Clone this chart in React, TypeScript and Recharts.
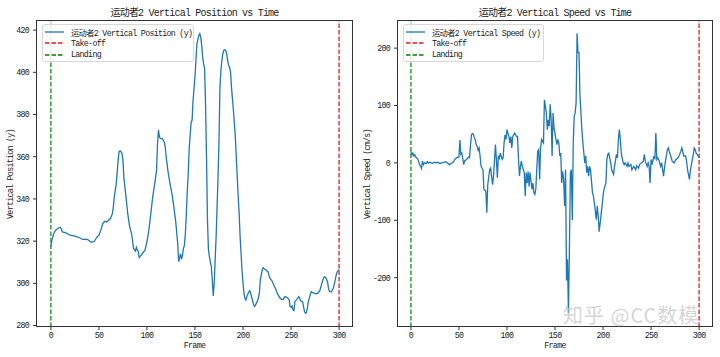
import React from 'react';
import { LineChart, Line, XAxis, YAxis, ReferenceLine } from 'recharts';

// 运动者2 position (y) per frame
const posFrames = [
  0, 1, 3, 5, 8, 10, 11, 12, 15, 20, 25, 30, 33, 38, 40, 42, 45, 48, 50, 52,
  54, 56, 58, 60, 62, 64, 65, 66, 68, 70, 71, 72, 73, 74, 75, 76, 78, 80, 82, 84,
  85, 86, 88, 89, 90, 91, 92, 94, 96, 98, 100, 102, 104, 106, 108, 110, 111, 112, 113, 114,
  116, 118, 119, 120, 122, 124, 126, 128, 130, 132, 133, 134, 135, 136, 137, 138, 139, 140, 141, 142,
  143, 144, 146, 147, 148, 150, 152, 154, 155, 156, 157, 158, 159, 160, 161, 162, 163, 164, 165, 166,
  167, 168, 169, 170, 171, 172, 173, 174, 175, 176, 177, 178, 179, 180, 181, 182, 183, 184, 185, 186,
  187, 188, 190, 192, 194, 195, 196, 197, 198, 199, 200, 201, 202, 203, 204, 206, 207, 208, 209, 210,
  211, 212, 214, 216, 217, 218, 220, 221, 222, 224, 226, 227, 228, 230, 232, 234, 236, 238, 240, 242,
  243, 244, 246, 248, 249, 250, 251, 252, 253, 254, 256, 258, 259, 260, 262, 263, 264, 265, 266, 267,
  268, 270, 271, 272, 274, 276, 278, 280, 282, 284, 285, 286, 288, 289, 290, 292, 294, 296, 297, 298,
  299, 300,
];
const posValues = [
  317.6, 320.5, 323.6, 325.2, 326.3, 326.5, 325.5, 324.4, 324, 322.8, 322.4, 321.6, 320.8, 320.8, 320.2, 319.5, 319.8, 322, 322.7, 325.2,
  328.3, 329.4, 329.1, 329.9, 330.7, 333, 336, 341, 347, 358.4, 362.4, 362.8, 362.4, 361.6, 358.4, 350, 341.7, 333, 326.8, 323.6,
  320.5, 316.5, 315.3, 317, 315.7, 315, 312.3, 313.4, 314.6, 315.7, 319.7, 325.2, 333, 341, 347, 353.5, 366.3, 372.6, 369.4, 368.7,
  368.5, 367, 364.7, 360, 352.8, 347.2, 342.5, 336.2, 329, 319, 310.2, 312.3, 313.9, 311.3, 313.4, 316.5, 318, 323.6, 333, 344,
  352, 364, 376.5, 377.3, 386.8, 397.8, 413.5, 417.5, 418.3, 416.7, 412.8, 407.2, 404, 402, 385, 360, 330, 316, 312.6, 310.2,
  307.9, 301.6, 294, 300, 311, 322, 336, 350.4, 367.9, 393, 400.9, 405.7, 408.8, 410.4, 410.7, 410.4, 408.8, 405.7, 403.3, 402.5,
  400.2, 393, 382, 369.4, 350.4, 341, 333, 322, 314, 306, 300, 295.3, 292.9, 292.1, 293.7, 296, 296.5, 295.3, 293.4, 291.8,
  289.8, 289, 290.6, 292.9, 295.3, 301.6, 306.3, 307.4, 306.9, 306.3, 305.5, 303.9, 302.4, 301.3, 299.2, 297.3, 295, 293.4, 292.4, 292.4,
  293.4, 293.7, 293.2, 292.4, 289, 288.7, 289.3, 287.4, 287.1, 291.3, 292.4, 293.7, 292.9, 291.7, 291.3, 289, 286.6, 285.8, 286.1, 288.2,
  291.3, 294.5, 296.1, 295.7, 295.3, 295, 295.3, 296.5, 300, 302.7, 303.1, 302.8, 300.8, 297.6, 296.1, 295.9, 297.6, 301.6, 303.9, 305.4,
  306, 306.6,
];

// 运动者2 vertical speed (cm/s) per frame
const speedFrames = [
  0, 1, 2, 3, 4, 5, 6, 7, 8, 9, 10, 11, 12, 13, 14, 16, 17, 18, 20, 22,
  24, 26, 28, 30, 32, 34, 36, 38, 40, 42, 44, 46, 48, 50, 51, 52, 53, 55, 56, 58,
  60, 61, 62, 63, 64, 65, 66, 67, 68, 69, 70, 71, 72, 73, 74, 75, 76, 78, 79, 80,
  82, 83, 85, 86, 88, 89, 90, 91, 92, 93, 95, 96, 97, 98, 99, 100, 102, 103, 104, 105,
  106, 108, 110, 111, 112, 113, 114, 115, 116, 118, 119, 120, 121, 122, 123, 124, 126, 127, 128, 129,
  130, 131, 132, 133, 134, 135, 136, 138, 139, 140, 141, 142, 143, 144, 145, 146, 147, 148, 149, 150,
  151, 152, 153, 154, 155, 156, 157, 158, 159, 160, 161, 162, 163, 164, 165, 166, 167, 168, 169, 170,
  171, 172, 173, 174, 175, 176, 178, 179, 181, 182, 183, 184, 185, 186, 187, 189, 190, 191, 193, 194,
  195, 196, 197, 199, 200, 201, 203, 204, 205, 206, 208, 209, 211, 212, 214, 215, 216, 217, 218, 219,
  221, 222, 223, 225, 226, 227, 229, 230, 232, 233, 234, 235, 237, 238, 240, 242, 243, 244, 246, 247,
  248, 249, 250, 251, 253, 254, 255, 256, 257, 258, 260, 261, 263, 264, 265, 267, 268, 269, 271, 272,
  274, 275, 276, 278, 279, 281, 282, 283, 284, 286, 287, 288, 290, 291, 292, 294, 295, 296, 297, 298,
  300,
];
const speedValues = [
  20, 14, 17, 12, 14, 10, 9, 7, 3, -3, -6, -10, 3, -3, 0, -1, 2, 0, 1, -1,
  1, 0, 1, -1, 0, 1, 2, 0, -3, -1, 1, 7, 9, 10, 40, 15, 17, -3, 4, 6,
  10, 9, 30, 49, 51, 50, 44, 40, 32, 29, 22, 26, 12, -6, -9, -12, -46, -49, -87, -38,
  -12, -9, -38, -23, 32, 6, -26, 12, 6, 17, 6, 9, 35, 49, 41, 58, 46, 35, 46, 26,
  46, 52, 46, 46, 6, -23, -6, 3, -6, -17, -58, -17, -35, -15, -41, -17, -46, -35, -52, -55,
  -46, -12, 20, 23, -29, 26, 41, 35, 110, 99, 87, 58, 75, 64, 102, 75, 12, 87, 60, 52,
  41, 32, 41, 35, 12, 17, -35, -15, -29, -75, -12, -205, -168, -262, -150, -17, -12, -100, 35, 81,
  87, 105, 226, 192, 192, 116, 58, 35, 0, 12, -17, -6, -23, -6, -12, -52, -58, -70, -99, -75,
  -93, -120, -105, -75, -58, -46, -35, 6, 15, 17, 0, -12, -20, -6, 15, 9, 41, 58, 41, 17,
  0, -3, 0, -6, 0, -6, -3, -12, -6, -9, -12, -5, -9, -3, 0, 3, 15, 3, -6, 0,
  -6, -35, 6, -3, 12, 6, 52, 6, 9, 6, -6, 0, -23, -9, 3, 23, 26, 20, 9, 3,
  0, 3, 6, 9, 12, 20, 26, 20, 12, 12, 3, -12, -29, -12, -3, 15, 26, 23, 17, 15,
  9,
];

const frameTicks = [0, 50, 100, 150, 200, 250, 300];
const posTicks = [280, 300, 320, 340, 360, 380, 400, 420];
const speedTicks = [-200, -100, 0, 100, 200];
const landingFrame = 0;
const takeoffFrame = 300;
const athlete = '运动者2';

const FONT = '"Liberation Mono", "Noto Sans CJK SC", monospace';
const BLUE = '#1f77b4';
const TOP = 20;
const PLOT_H = 307;

const posData = posFrames.map((f, i) => ({ frame: f, value: posValues[i] }));
const speedData = speedFrames.map((f, i) => ({ frame: f, value: speedValues[i] }));

const tickStyle = { fontSize: 8.3, fontFamily: FONT, fill: '#222', letterSpacing: -0.7 };

const LegendBox = ({ label, width }: { label: string; width: number }) => {
  const rows = [
    { name: label, color: BLUE, dash: false },
    { name: 'Take-off', color: '#e41a1c', dash: true },
    { name: 'Landing', color: '#008000', dash: true },
  ];
  return (
    <div
      style={{
        position: 'absolute', left: 5, top: 3, width, height: 38, boxSizing: 'border-box',
        border: '1px solid #d8d8d8', borderRadius: 3, background: 'rgba(255,255,255,0.85)',
        fontFamily: FONT, fontSize: 8.3, letterSpacing: -0.7, color: '#222',
      }}
    >
      {rows.map((r, i) => (
        <div key={r.name} style={{ position: 'absolute', left: 2, top: 1.5 + i * 11.5, height: 10, display: 'flex', alignItems: 'center', whiteSpace: 'nowrap' }}>
          <svg width={20} height={4} style={{ marginRight: 6 }}>
            <line x1={0} y1={2} x2={19} y2={2} stroke={r.color} strokeWidth={1.3} strokeDasharray={r.dash ? '4.5 2' : undefined} />
          </svg>
          <span>{r.name}</span>
        </div>
      ))}
    </div>
  );
};

interface PanelProps {
  left: number;
  data: { frame: number; value: number }[];
  xDomain: [number, number];
  yDomain: [number, number];
  yTicks: number[];
  title: string;
  yLabel: string;
  seriesName: string;
  legendWidth: number;
  yLabelX: number;
  plotLeft: number;
}

const Panel = ({ left, data, xDomain, yDomain, yTicks, title, yLabel, seriesName, legendWidth, yLabelX, plotLeft }: PanelProps) => {
  const plotW = 353 - plotLeft;
  return (
    <div style={{ position: 'absolute', left, top: 0, width: 360, height: 357 }}>
      <LineChart width={360} height={357} data={data} margin={{ top: TOP, right: 7, bottom: 0, left: plotLeft - 36 }}>
        <XAxis
          type="number"
          dataKey="frame"
          domain={xDomain}
          ticks={frameTicks}
          allowDataOverflow
          height={30}
          axisLine={false}
          tickLine={{ stroke: '#333' }}
          tickSize={3}
          tickMargin={2}
          tick={tickStyle}
        />
        <YAxis
          type="number"
          domain={yDomain}
          ticks={yTicks}
          allowDataOverflow
          width={36}
          axisLine={false}
          tickLine={{ stroke: '#333' }}
          tickSize={3}
          tickMargin={4}
          tick={tickStyle}
        />
        <ReferenceLine x={landingFrame} stroke="#008000" strokeWidth={1.2} strokeDasharray="4.5 2" />
        <ReferenceLine x={takeoffFrame} stroke="#e41a1c" strokeWidth={1.3} strokeDasharray="4.5 2" />
        <Line type="linear" dataKey="value" stroke={BLUE} strokeWidth={1.3} dot={false} isAnimationActive={false} />
      </LineChart>
      <div style={{ position: 'absolute', left: plotLeft, top: TOP, width: plotW, height: PLOT_H, boxSizing: 'border-box', border: '1px solid #333', pointerEvents: 'none' }}>
        <LegendBox label={seriesName} width={legendWidth} />
      </div>
      <div style={{ position: 'absolute', left: plotLeft, width: plotW, top: 4, textAlign: 'center', fontFamily: FONT, fontSize: 10, letterSpacing: -0.8, color: '#222', whiteSpace: 'nowrap' }}>
        {title}
      </div>
      <div style={{ position: 'absolute', left: plotLeft, width: plotW, top: 341, textAlign: 'center', fontFamily: FONT, fontSize: 8.3, letterSpacing: -0.7, color: '#222' }}>
        Frame
      </div>
      <div
        style={{
          position: 'absolute', left: yLabelX, top: TOP + PLOT_H / 2, transform: 'translate(-50%, -50%) rotate(-90deg)',
          fontFamily: FONT, fontSize: 8.3, letterSpacing: -0.7, color: '#222', whiteSpace: 'nowrap',
        }}
      >
        {yLabel}
      </div>
    </div>
  );
};

export default function App() {
  return (
    <div style={{ position: 'fixed', left: 0, top: 0, width: 720, height: 357, background: '#fff', overflow: 'hidden' }}>
      <Panel
        left={0}
        data={posData}
        xDomain={[-15.5, 314.5]}
        yDomain={[279.3, 424.8]}
        yTicks={posTicks}
        title={`${athlete} Vertical Position vs Time`}
        yLabel="Vertical Position (y)"
        seriesName={`${athlete} Vertical Position (y)`}
        legendWidth={152}
        yLabelX={10}
        plotLeft={36}
      />
      <Panel
        left={360}
        data={speedData}
        xDomain={[-14.5, 314.5]}
        yDomain={[-286, 249]}
        yTicks={speedTicks}
        title={`${athlete} Vertical Speed vs Time`}
        yLabel="Vertical Speed (cm/s)"
        seriesName={`${athlete} Vertical Speed (y)`}
        legendWidth={141}
        yLabelX={6.5}
        plotLeft={37}
      />
      <div style={{ position: 'absolute', left: 563, top: 302, lineHeight: '26px', fontFamily: '"Noto Sans CJK SC", sans-serif', fontSize: 20, color: 'rgba(195,195,195,0.7)', whiteSpace: 'nowrap', letterSpacing: 1, pointerEvents: 'none' }}>
        知乎 @CC数模
      </div>
    </div>
  );
}
